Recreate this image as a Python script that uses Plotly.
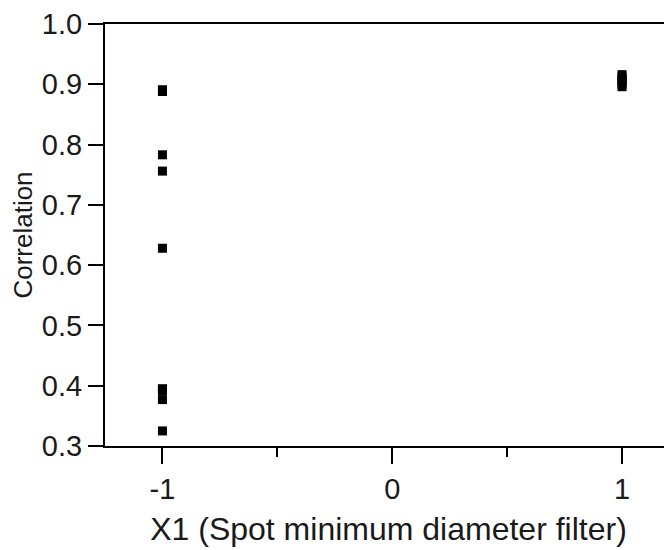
import plotly.graph_objects as go

# Data
x_left = [-1, -1, -1, -1, -1, -1, -1, -1, -1, -1]
y_left = [0.891, 0.888, 0.783, 0.756, 0.628, 0.395, 0.392, 0.377, 0.325, 0.394]
x_right = [1, 1, 1, 1, 1, 1]
y_right = [0.896, 0.900, 0.904, 0.908, 0.912, 0.916]

x_ticks = [-1, 0, 1]
x_tick_labels = ["-1", "0", "1"]
y_ticks = [0.3, 0.4, 0.5, 0.6, 0.7, 0.8, 0.9, 1.0]
y_tick_labels = ["0.3", "0.4", "0.5", "0.6", "0.7", "0.8", "0.9", "1.0"]

FONT = "Arial, Liberation Sans, sans-serif"
TXT = "#1a1a1a"

fig = go.Figure()
fig.add_trace(go.Scatter(
    x=x_left + x_right, y=y_left + y_right, mode="markers",
    marker=dict(symbol="square", size=9, color="black"),
    showlegend=False, hoverinfo="skip",
))

# the page body adds an 8px offset, so the figure is 8px smaller than the window
fig.update_layout(
    width=664, height=542,
    margin=dict(l=97, r=0, t=7, b=104),
    plot_bgcolor="white", paper_bgcolor="white",
    font=dict(family=FONT, size=28, color=TXT),
    xaxis=dict(
        range=[-1.25, 1.2174], showgrid=False, zeroline=False,
        showline=True, linecolor="black", linewidth=2, mirror=True,
        tickmode="array", tickvals=x_ticks, ticktext=x_tick_labels,
        ticks="outside", ticklen=16, tickwidth=2, tickcolor="black",
        tickfont=dict(family=FONT, size=29, color=TXT),
        ticklabeloverflow="allow",
        minor=dict(tickmode="array", tickvals=[-0.5, 0.5], ticks="outside",
                   ticklen=9, tickwidth=2, tickcolor="black", showgrid=False),
        title=dict(text="X1 (Spot minimum diameter filter)",
                   font=dict(family=FONT, size=32, color=TXT), standoff=14),
    ),
    yaxis=dict(
        range=[0.3, 1.0], showgrid=False, zeroline=False,
        showline=True, linecolor="black", linewidth=2, mirror=False,
        tickmode="array", tickvals=y_ticks, ticktext=y_tick_labels,
        ticks="outside", ticklen=15, tickwidth=2, tickcolor="black",
        tickfont=dict(family=FONT, size=29, color=TXT),
        ticklabeloverflow="allow",
        title=dict(text="Correlation",
                   font=dict(family=FONT, size=26, color=TXT), standoff=8),
    ),
)

fig.write_html("out.html")
